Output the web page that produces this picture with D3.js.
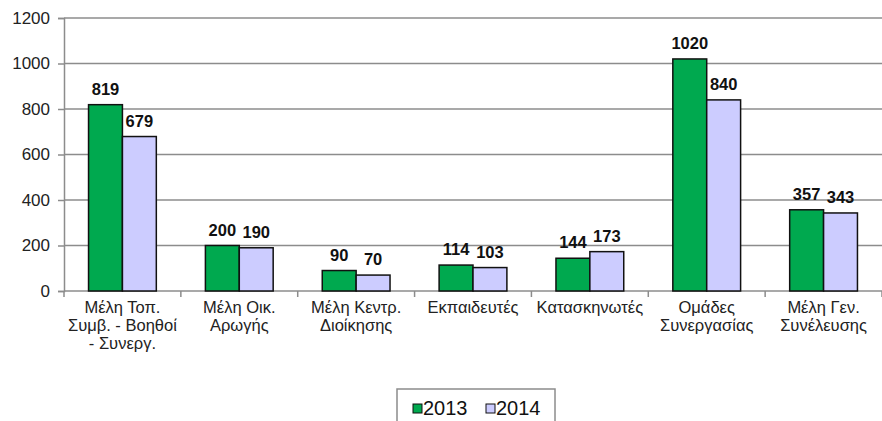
<!DOCTYPE html>
<html>
<head>
<meta charset="utf-8">
<script src="https://cdn.jsdelivr.net/npm/d3@7"></script>
<style>
  body { margin: 0; background: #fff; }
  text { font-family: Arial, "Liberation Sans", sans-serif; }
</style>
</head>
<body>
<div id="chart"></div>
<script>
const categories = [
  ["Μέλη Τοπ.", "Συμβ.  - Βοηθοί", "- Συνεργ."],
  ["Μέλη Οικ.", "Αρωγής"],
  ["Μέλη Κεντρ.", "Διοίκησης"],
  ["Εκπαιδευτές"],
  ["Κατασκηνωτές"],
  ["Ομάδες", "Συνεργασίας"],
  ["Μέλη Γεν.", "Συνέλευσης"],
];
const series = ["2013", "2014"];
const values2013 = [819, 200, 90, 114, 144, 1020, 357];
const values2014 = [679, 190, 70, 103, 173, 840, 343];
const yTicks = [0, 200, 400, 600, 800, 1000, 1200];

const width = 882;
const height = 421;
const margin = { top: 18, right: 0, bottom: 130, left: 64 };
const colors = ["#00a94f", "#ccccff"];

const svg = d3
  .select("#chart")
  .append("svg")
  .attr("width", width)
  .attr("height", height);

const x = d3
  .scaleBand()
  .domain(d3.range(categories.length))
  .range([margin.left, width - margin.right]);

const xSub = d3
  .scaleBand()
  .domain(series)
  .range([x.bandwidth() * 0.21, x.bandwidth() * 0.79]);

const y = d3
  .scaleLinear()
  .domain([0, 1200])
  .range([height - margin.bottom, margin.top]);

// gridlines
svg
  .append("g")
  .selectAll("line")
  .data(yTicks)
  .join("line")
  .attr("x1", margin.left)
  .attr("x2", width)
  .attr("y1", (d) => y(d))
  .attr("y2", (d) => y(d))
  .attr("stroke", "#8c8c8c")
  .attr("stroke-width", 1.5);

// y axis
const yAxis = svg
  .append("g")
  .attr("transform", `translate(${margin.left},0)`)
  .call(
    d3.axisLeft(y).tickValues(yTicks).tickFormat(d3.format("d")).tickSize(6).tickPadding(8)
  );
yAxis.select(".domain").attr("stroke", "#8c8c8c").attr("stroke-width", 1.5);
yAxis.selectAll(".tick line").attr("stroke", "#8c8c8c").attr("stroke-width", 1.5);
yAxis
  .selectAll(".tick text")
  .attr("font-size", 17)
  .attr("font-family", "Arial, 'Liberation Sans', sans-serif")
  .attr("fill", "#222");

// x axis ticks between categories
svg
  .append("g")
  .selectAll("line")
  .data(d3.range(categories.length + 1))
  .join("line")
  .attr("x1", (i) => margin.left + i * x.step())
  .attr("x2", (i) => margin.left + i * x.step())
  .attr("y1", y(0))
  .attr("y2", y(0) + 6)
  .attr("stroke", "#8c8c8c")
  .attr("stroke-width", 1.5);

// bars
const groups = svg
  .append("g")
  .selectAll("g")
  .data(categories.map((c, i) => [values2013[i], values2014[i]]))
  .join("g")
  .attr("transform", (d, i) => `translate(${x(i)},0)`);

groups
  .selectAll("rect")
  .data((d) => d.map((v, j) => ({ v, s: series[j], j })))
  .join("rect")
  .attr("x", (d) => xSub(d.s))
  .attr("y", (d) => y(d.v))
  .attr("width", xSub.bandwidth())
  .attr("height", (d) => y(0) - y(d.v))
  .attr("fill", (d) => colors[d.j])
  .attr("stroke", "#111")
  .attr("stroke-width", 1.5);

groups
  .selectAll("text")
  .data((d) => d.map((v, j) => ({ v, s: series[j], j })))
  .join("text")
  .attr("x", (d) => xSub(d.s) + xSub.bandwidth() / 2)
  .attr("y", (d) => y(d.v) - 10)
  .attr("text-anchor", "middle")
  .attr("font-size", 16.5)
  .attr("font-weight", 700)
  .attr("fill", "#111")
  .text((d) => d.v);

// category labels
const labels = svg
  .append("g")
  .selectAll("text")
  .data(categories)
  .join("text")
  .attr("x", (d, i) => x(i) + x.bandwidth() / 2)
  .attr("y", y(0) + 22)
  .attr("text-anchor", "middle")
  .attr("font-size", 16.5)
  .attr("fill", "#222");

labels
  .selectAll("tspan")
  .data((d) => d)
  .join("tspan")
  .attr("x", function () {
    return this.parentNode.getAttribute("x");
  })
  .attr("dy", (d, i) => (i === 0 ? 0 : 18))
  .text((d) => d);

// legend
const legend = svg.append("g").attr("transform", "translate(397,389)");
legend
  .append("rect")
  .attr("width", 158)
  .attr("height", 44)
  .attr("fill", "#fff")
  .attr("stroke", "#8c8c8c")
  .attr("stroke-width", 1.5);

const legendItems = legend
  .selectAll("g")
  .data(series)
  .join("g")
  .attr("transform", (d, i) => `translate(${16 + i * 73},15)`);

legendItems
  .append("rect")
  .attr("width", 9)
  .attr("height", 9)
  .attr("fill", (d, i) => colors[i])
  .attr("stroke", "#111")
  .attr("stroke-width", 1);

legendItems
  .append("text")
  .attr("x", 10)
  .attr("y", 11)
  .attr("font-size", 20)
  .attr("fill", "#111")
  .text((d) => d);
</script>
</body>
</html>
